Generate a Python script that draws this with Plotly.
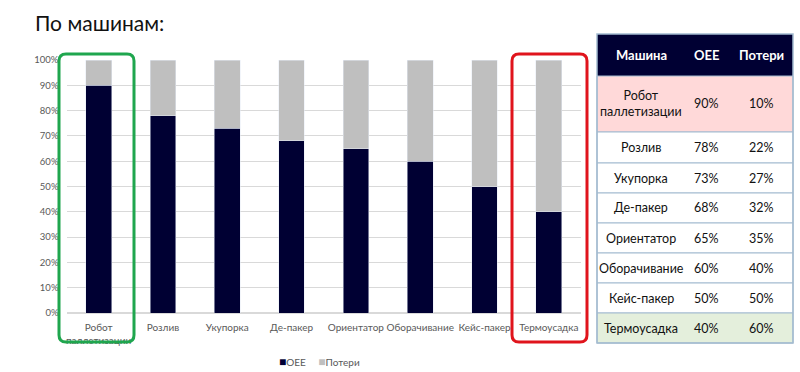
import plotly.graph_objects as go

# Machine-level OEE breakdown
machines = ["Робот паллетизации", "Розлив", "Укупорка", "Де-пакер", "Ориентатор",
            "Оборачивание", "Кейс-пакер", "Термоусадка"]
axis_labels = ["Робот<br>паллетизации", "Розлив", "Укупорка", "Де-пакер", "Ориентатор",
               "Оборачивание", "Кейс-пакер", "Термоусадка"]
oee = [90, 78, 73, 68, 65, 60, 50, 40]
losses = [10, 22, 27, 32, 35, 40, 50, 60]
y_ticks = list(range(0, 101, 10))

W, H = 800, 372
NAVY = "#000033"
GREY = "#bfbfbf"
TXT = "#595959"
FONT = "Lato, Carlito, Calibri, sans-serif"


def px(x):
    return x / W


def py(y):
    return 1 - y / H


fig = go.Figure()
fig.add_trace(go.Bar(x=axis_labels, y=[v / 100 for v in oee], name="OEE",
                     marker_color=NAVY, width=0.4))
fig.add_trace(go.Bar(x=axis_labels, y=[v / 100 for v in losses], name="Потери",
                     marker_color=GREY, width=0.4))

shapes = []
annotations = []


def rounded_box(x0, y0, x1, y1, r, color):
    p = (f"M{px(x0 + r)},{py(y0)} L{px(x1 - r)},{py(y0)} Q{px(x1)},{py(y0)} {px(x1)},{py(y0 + r)} "
         f"L{px(x1)},{py(y1 - r)} Q{px(x1)},{py(y1)} {px(x1 - r)},{py(y1)} "
         f"L{px(x0 + r)},{py(y1)} Q{px(x0)},{py(y1)} {px(x0)},{py(y1 - r)} "
         f"L{px(x0)},{py(y0 + r)} Q{px(x0)},{py(y0)} {px(x0 + r)},{py(y0)} Z")
    shapes.append(dict(type="path", xref="paper", yref="paper", path=p,
                       line=dict(color=color, width=3), layer="above"))


# Highlight boxes: best and worst machine
rounded_box(59, 54, 134, 342, 7, "#1fa64e")
rounded_box(512, 54, 587, 342, 7, "#e0141c")

# Summary table
col_x = [597, 684, 729, 793]
row_y = [34, 76, 132, 163, 193, 223, 253, 283, 313, 343]
col_centers = [641, 706, 761]
BORDER = "#a3bbd0"
row_fill = ["#ffd9d9"] + ["#ffffff"] * 6 + ["#e4efdc"]

shapes.append(dict(type="rect", xref="paper", yref="paper",
                   x0=px(col_x[0]), x1=px(col_x[-1]), y0=py(row_y[1]), y1=py(row_y[0]),
                   fillcolor=NAVY, line=dict(width=0), layer="above"))
for i, fill in enumerate(row_fill):
    shapes.append(dict(type="rect", xref="paper", yref="paper",
                       x0=px(col_x[0]), x1=px(col_x[-1]),
                       y0=py(row_y[i + 2]), y1=py(row_y[i + 1]),
                       fillcolor=fill, line=dict(color=BORDER, width=1), layer="above"))
shapes.append(dict(type="rect", xref="paper", yref="paper",
                   x0=px(col_x[0]), x1=px(col_x[-1]), y0=py(row_y[-1]), y1=py(row_y[0]),
                   fillcolor="rgba(0,0,0,0)", line=dict(color=BORDER, width=1.5), layer="above"))


def cell_text(xc, yc, text, size, color):
    annotations.append(dict(xref="paper", yref="paper", x=px(xc), y=py(yc),
                            xanchor="center", yanchor="middle", text=text, showarrow=False,
                            font=dict(family=FONT, size=size, color=color)))


headers = ["Машина", "OEE", "Потери"]
for j, h in enumerate(headers):
    cell_text(col_centers[j], (row_y[0] + row_y[1]) / 2, f"<b>{h}</b>", 13, "white")

table_names = ["Робот<br>паллетизации"] + machines[1:]
for i in range(len(machines)):
    yc = (row_y[i + 1] + row_y[i + 2]) / 2
    cells = [table_names[i], f"{oee[i]}%", f"{losses[i]}%"]
    for j, c in enumerate(cells):
        cell_text(col_centers[j], yc, c, 12.5, "#111111")

# Title
annotations.append(dict(xref="paper", yref="paper", x=px(33), y=py(23), xanchor="left",
                        yanchor="middle", text="По машинам:", showarrow=False,
                        font=dict(family=FONT, size=21, color="#111111")))

# Legend line under the chart
annotations.append(dict(xref="paper", yref="paper", x=px(319), y=py(361),
                        xanchor="center", yanchor="middle", showarrow=False,
                        text=(f"<span style='color:{NAVY};font-size:12px'>■</span>OEE"
                              f"\u2003\u2002<span style='color:{GREY};font-size:12px'>■</span>Потери"),
                        font=dict(family=FONT, size=10, color=TXT)))

fig.update_layout(
    width=W, height=H,
    margin=dict(l=0, r=0, t=0, b=0),
    barmode="stack",
    showlegend=False,
    plot_bgcolor="white",
    paper_bgcolor="white",
    font=dict(family=FONT, color=TXT),
    xaxis=dict(domain=[px(66.5), px(581)], automargin=False, showgrid=False,
               showline=False, ticks="", tickfont=dict(size=10, color=TXT),
               tickangle=0, ticklabelstandoff=7),
    yaxis=dict(domain=[py(313), py(60)], range=[0, 1], automargin=False,
               tickvals=[t / 100 for t in y_ticks], ticktext=[f"{t}%" for t in y_ticks],
               tickfont=dict(size=9.5, color=TXT), showgrid=True, gridcolor="#d9d9d9",
               gridwidth=1, zeroline=True, zerolinecolor="#d9d9d9", ticks="",
               ticklabelstandoff=7),
    shapes=shapes,
    annotations=annotations,
    bargap=0.6,
)

fig.write_html("out.html")
